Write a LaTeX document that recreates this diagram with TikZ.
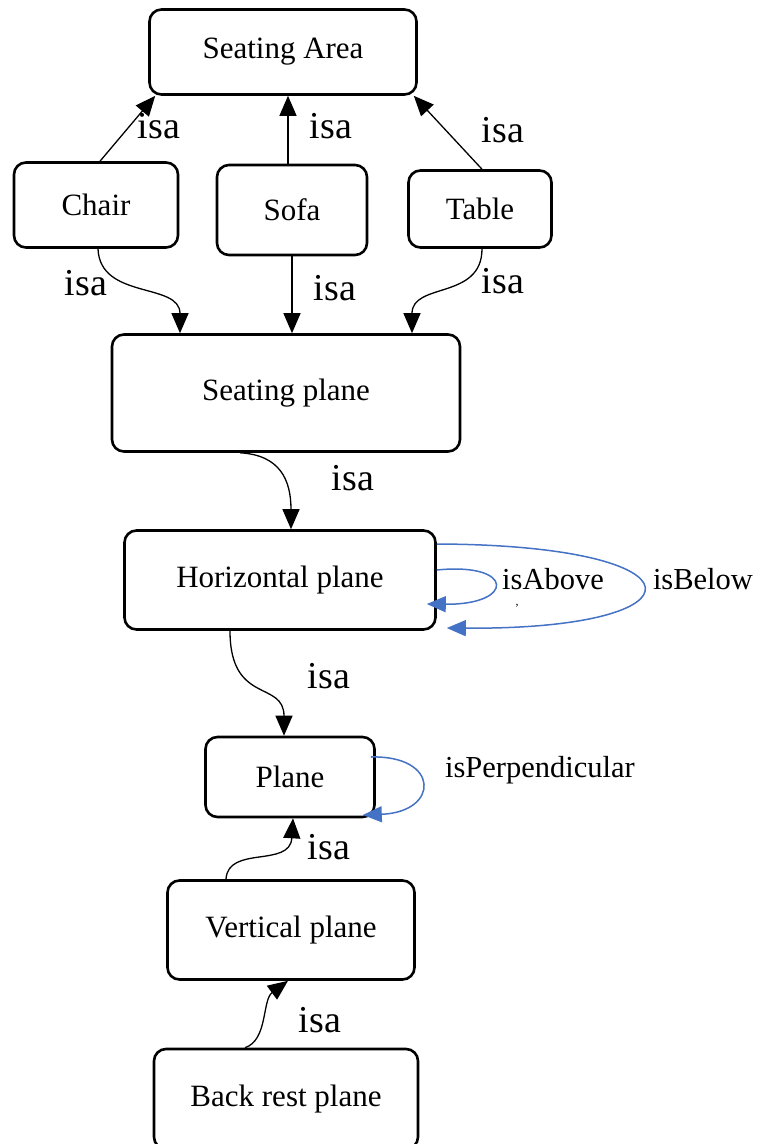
\documentclass[tikz,border=0pt]{standalone}
\usepackage{fontspec}
\setmainfont{Liberation Serif}
\usetikzlibrary{arrows.meta}
\definecolor{linkblue}{RGB}{68,114,196}
\begin{document}
\begin{tikzpicture}[x=1pt,y=-1pt,
  box/.style={draw, line width=2.6pt, rounded corners=12pt, inner sep=0pt, font=\fontsize{31}{36}\selectfont},
  isa/.style={font=\fontsize{38}{44}\selectfont, inner sep=0pt},
  rel/.style={font=\fontsize{30.5}{36}\selectfont, inner sep=0pt},
  arr/.style={line width=1.3pt, -{Triangle[length=20pt,width=17pt]}},
  barr/.style={line width=1.5pt, linkblue, -{Triangle[length=19pt,width=16pt]}}]
\useasboundingbox (0,0) rectangle (759,1144);
\clip (0,0) rectangle (759,1144);
% nodes
\node[box, minimum width=267pt, minimum height=85pt] (sa) at (283,52) {Seating Area};
\node[box, minimum width=164pt, minimum height=85pt] (chair) at (96,205) {Chair};
\node[box, minimum width=150pt, minimum height=90pt] (sofa) at (292,210) {Sofa};
\node[box, minimum width=143pt, minimum height=77pt] (table) at (480,209) {Table};
\node[box, minimum width=348pt, minimum height=117pt] (sp) at (286,393) {Seating plane};
\node[box, minimum width=311pt, minimum height=99pt] (hp) at (280,580) {Horizontal plane};
\node[box, minimum width=169pt, minimum height=80pt] (pl) at (290,777) {Plane};
\node[box, minimum width=247pt, minimum height=99pt] (vp) at (291,930) {Vertical plane};
\node[box, minimum width=264pt, minimum height=100pt] (bp) at (286,1099) {Back rest plane};
% top edges
\draw[arr] ([xshift=4pt]chair.north) -- ([xshift=7pt]sa.south west);
\draw[arr] ([xshift=5pt]sa.south |- sofa.north) -- ([xshift=5pt]sa.south);
\draw[arr] ([xshift=2pt]table.north) -- ([xshift=-4pt]sa.south east);
\draw[arr] ([xshift=2pt]chair.south) .. controls (100,300) and (180,282) .. ([xshift=-106pt]sp.north);
\draw[arr] ([xshift=6pt]sp.north |- sofa.south) -- ([xshift=6pt]sp.north);
\draw[arr] ([xshift=2pt]table.south) .. controls (482,300) and (412,282) .. ([xshift=126pt]sp.north);
\draw[arr] ([xshift=-46pt]sp.south) .. controls (280,455) and (291,480) .. ([xshift=11pt]hp.north);
\draw[arr] ([xshift=-50pt]hp.south) .. controls (230,705) and (284,680) .. ([xshift=-6pt]pl.north);
\draw[arr] ([xshift=-65pt]vp.north) .. controls (228,845) and (290,868) .. ([xshift=3pt]pl.south);
\draw[arr] ([xshift=-41pt]bp.north) .. controls (268,1040) and (262,1000) .. ([xshift=-3pt]vp.south);
% blue loops
\draw[barr] ([yshift=10pt]hp.east) .. controls (515,562) and (515,605) .. ([xshift=-10pt,yshift=-24pt]hp.east);
\draw[barr] ([yshift=36pt]hp.east) .. controls (710,545) and (710,630) .. ([xshift=10pt,yshift=-48pt]hp.east);
\draw[barr] ([xshift=-5pt,yshift=20pt]pl.east) .. controls (440,755) and (440,812) .. ([xshift=-13pt,yshift=-38pt]pl.east);
% labels
\node[isa] (l1) at (159,126) {isa};
\node[isa] (l2) at (331,126) {isa};
\node[isa] (l3) at (503,130) {isa};
\node[isa] (l4) at (86,283) {isa};
\node[isa] (l5) at (335,288) {isa};
\node[isa] (l6) at (503,281) {isa};
\node[isa] (l7) at (353,478) {isa};
\node[isa] (l8) at (329,676) {isa};
\node[isa] (l9) at (329,847) {isa};
\node[isa] (l10) at (320,1020) {isa};
\node[rel] (r1) at (553,579) {isAbove};
\node[font=\fontsize{12}{14}\selectfont, inner sep=0pt] (r1c) at (517,606) {,};
\node[rel] (r2) at (703,579) {isBelow};
\node[rel] (r3) at (540,770) {isPerpendicular};
\end{tikzpicture}
\end{document}
